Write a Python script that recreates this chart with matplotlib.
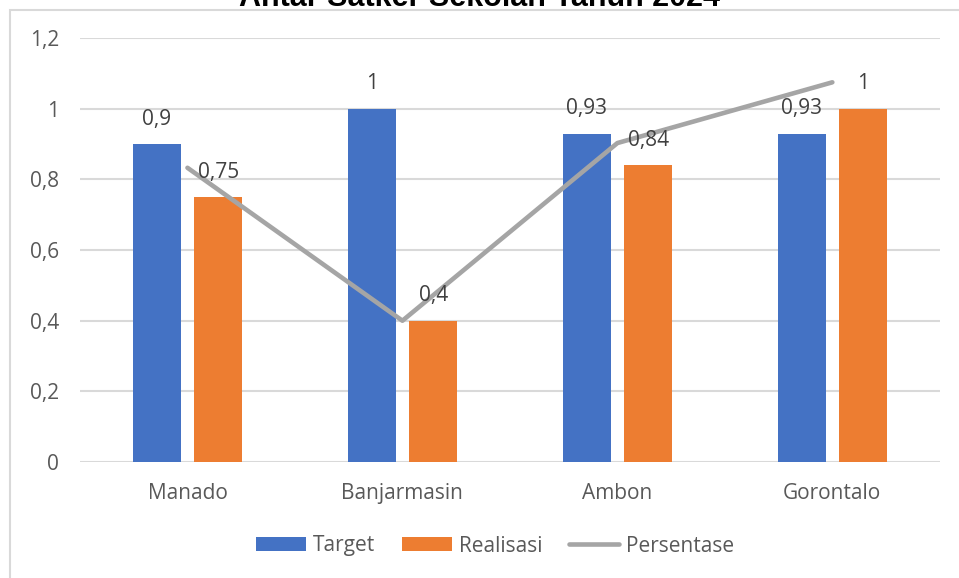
import matplotlib
matplotlib.use('Agg')
import matplotlib.pyplot as plt
from matplotlib.patches import Rectangle
import numpy as np

# data
kota = ['Manado', 'Banjarmasin', 'Ambon', 'Gorontalo']
target = [0.9, 1.0, 0.93, 0.93]
realisasi = [0.75, 0.4, 0.84, 1.0]
persentase = [0.833, 0.40, 0.903, 1.075]
label_target = ['0,9', '1', '0,93', '0,93']
label_realisasi = ['0,75', '0,4', '0,84', '1']
yticks = [0, 0.2, 0.4, 0.6, 0.8, 1.0, 1.2]
ytick_labels = ['0', '0,2', '0,4', '0,6', '0,8', '1', '1,2']

plt.rcParams['font.family'] = ['Open Sans', 'DejaVu Sans']

fig = plt.figure(figsize=(9.59, 5.78), dpi=100)
ax = fig.add_axes([0.0834, 0.2007, 0.8966, 0.7333])

# bingkai area grafik
fig.patches.append(Rectangle((10 / 959, -0.1), 1.2, 1.1 - 10 / 578, transform=fig.transFigure,
                             fill=False, edgecolor='#D9D9D9', linewidth=1.5))

x = np.arange(len(kota))
lebar = 0.223
geser = 0.143

bt = ax.bar(x - geser, target, lebar, color='#4472C4', label='Target', zorder=2)
br = ax.bar(x + geser, realisasi, lebar, color='#ED7D31', label='Realisasi', zorder=2)
ln, = ax.plot(x, persentase, color='#A5A5A5', linewidth=3.3, label='Persentase',
              solid_capstyle='round', zorder=3)

for i in range(len(kota)):
    ax.annotate(label_target[i], (x[i] - geser, target[i]), xytext=(0, 18), textcoords='offset points',
                ha='center', va='center', fontsize=15, color='#404040', zorder=4)
    ax.annotate(label_realisasi[i], (x[i] + geser, realisasi[i]), xytext=(0, 18), textcoords='offset points',
                ha='center', va='center', fontsize=15, color='#404040', zorder=4)

ax.set_xlim(-0.5, 3.5)
ax.set_ylim(0, 1.2)
ax.set_yticks(yticks)
ax.set_yticklabels(ytick_labels)
ax.set_xticks(x)
ax.set_xticklabels(kota)
ax.tick_params(axis='both', length=0, labelsize=15, labelcolor='#595959')
ax.tick_params(axis='y', pad=15)
ax.tick_params(axis='x', pad=15)
ax.grid(axis='y', color='#D9D9D9', linewidth=1.5, zorder=0)
ax.set_axisbelow(True)
for s in ax.spines.values():
    s.set_visible(False)

fig.text(0.5, 1 - 6.5 / 578, 'Antar Satker Sekolah Tahun 2024', ha='center', va='baseline',
         fontsize=22, fontweight='bold', family=['Liberation Sans', 'DejaVu Sans'], color='black')

fig.legend(handles=[bt, br, ln], loc='center', bbox_to_anchor=(0.516, 1 - 546 / 578), ncol=3,
           frameon=False, fontsize=15, handlelength=2.4, handleheight=0.63,
           handletextpad=0.33, columnspacing=1.3, labelcolor='#595959')

plt.savefig('out.png', dpi=100)
